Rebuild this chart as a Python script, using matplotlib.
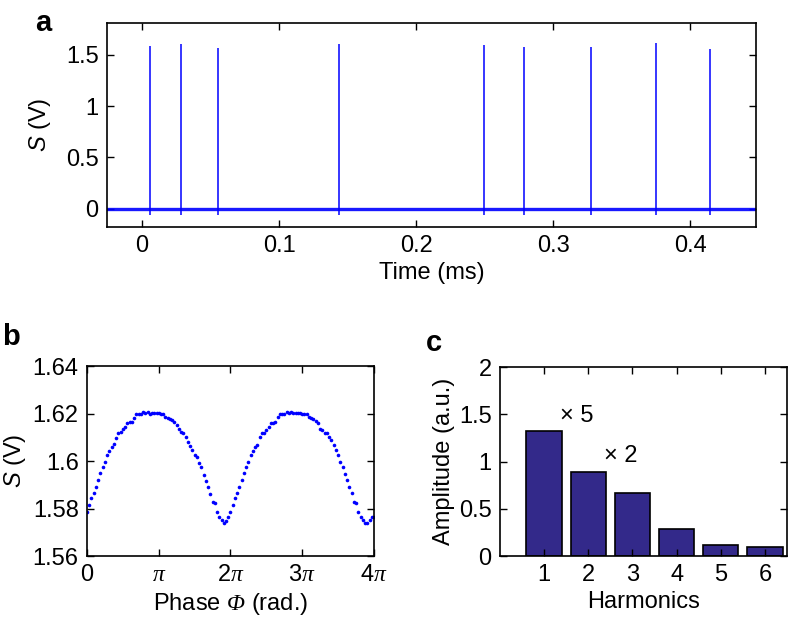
import numpy as np
import matplotlib
matplotlib.use('Agg')
import matplotlib.pyplot as plt

plt.rcParams['font.family'] = ['Liberation Sans', 'DejaVu Sans']
plt.rcParams['mathtext.fontset'] = 'custom'
plt.rcParams['mathtext.rm'] = 'Liberation Sans'
plt.rcParams['mathtext.it'] = 'Liberation Serif:italic'
plt.rcParams['mathtext.cal'] = 'Liberation Serif:italic'
plt.rcParams['mathtext.sf'] = 'Liberation Sans:italic'

# panel a: spike train
spike_times = [0.0058, 0.0285, 0.0555, 0.1438, 0.2496, 0.2788, 0.3277, 0.3752, 0.4146]
spike_peaks = [1.587, 1.607, 1.571, 1.607, 1.597, 1.575, 1.575, 1.613, 1.555]

# panel b: signal vs phase (in units of pi / 32)
phase_steps = 32
signal = [1.5787, 1.5815, 1.5844, 1.5865, 1.5890, 1.5920, 1.5950, 1.5975, 1.5997, 1.6025,
          1.6043, 1.6060, 1.6070, 1.6098, 1.6117, 1.6123, 1.6133, 1.6144, 1.6161, 1.6163,
          1.6166, 1.6180, 1.6197, 1.6198, 1.6200, 1.6206, 1.6204, 1.6207, 1.6200, 1.6203,
          1.6204, 1.6204, 1.6203, 1.6200, 1.6197, 1.6186, 1.6182, 1.6176, 1.6174, 1.6164,
          1.6150, 1.6136, 1.6122, 1.6118, 1.6102, 1.6081, 1.6063, 1.6046, 1.6025, 1.6018,
          1.5990, 1.5973, 1.5941, 1.5917, 1.5892, 1.5861, 1.5829, 1.5822, 1.5787, 1.5765,
          1.5752, 1.5738, 1.5749, 1.5763, 1.5787, 1.5815, 1.5843, 1.5864, 1.5889, 1.5920,
          1.5948, 1.5973, 1.5997, 1.6025, 1.6043, 1.6060, 1.6067, 1.6100, 1.6117, 1.6119,
          1.6131, 1.6144, 1.6159, 1.6161, 1.6166, 1.6184, 1.6198, 1.6198, 1.6200, 1.6206,
          1.6204, 1.6207, 1.6203, 1.6204, 1.6204, 1.6204, 1.6200, 1.6197, 1.6197, 1.6186,
          1.6182, 1.6176, 1.6170, 1.6159, 1.6136, 1.6130, 1.6120, 1.6117, 1.6100, 1.6088,
          1.6067, 1.6046, 1.6025, 1.5997, 1.5976, 1.5945, 1.5920, 1.5892, 1.5864, 1.5829,
          1.5825, 1.5787, 1.5765, 1.5752, 1.5740, 1.5738, 1.5752, 1.5763, 1.5765]
phase_ticklabels = ['0', r'$\mathit{\pi}$', r'$2\mathit{\pi}$', r'$3\mathit{\pi}$', r'$4\mathit{\pi}$']

# panel c: harmonics
harmonics = [1, 2, 3, 4, 5, 6]
amplitude = [1.32, 0.89, 0.67, 0.29, 0.115, 0.10]
scale_notes = {1: '× 5', 2: '× 2'}

FS = 17
blue = '#0000ff'
bar_color = '#33298a'


def matlab_box(ax):
    ax.tick_params(direction='in', top=True, right=True, length=5, width=1,
                   labelsize=FS, pad=6)
    for s in ax.spines.values():
        s.set_linewidth(1.2)


fig = plt.figure(figsize=(7.88, 6.23), dpi=100)

# ---- a ----
axa = fig.add_axes([0.1358, 0.6356, 0.8236, 0.3274])
axa.axhline(0, color=blue, lw=2.4, alpha=0.9, zorder=2)
axa.vlines(spike_times, -0.065, spike_peaks, color=blue, lw=1.1, zorder=3)
axa.set_xlim(-0.0255, 0.448)
axa.set_ylim(-0.18, 1.81)
axa.set_xticks([0, 0.1, 0.2, 0.3, 0.4])
axa.set_xticklabels(['0', '0.1', '0.2', '0.3', '0.4'])
axa.set_yticks([0, 0.5, 1, 1.5])
axa.set_yticklabels(['0', '0.5', '1', '1.5'])
matlab_box(axa)
axa.set_xlabel('Time (ms)', fontsize=FS, labelpad=3)
axa.set_ylabel(r'$\mathsf{S}$ (V)', fontsize=FS, labelpad=9)

# ---- b ----
axb = fig.add_axes([0.1104, 0.1075, 0.3642, 0.305])
phase = np.arange(len(signal)) / phase_steps
axb.plot(phase, signal, linestyle='none', marker='o', ms=2.6, mew=0, color=blue)
axb.set_xlim(0, 4)
axb.set_ylim(1.56, 1.64)
axb.set_xticks([0, 1, 2, 3, 4])
axb.set_xticklabels(phase_ticklabels)
axb.set_yticks([1.56, 1.58, 1.6, 1.62, 1.64])
axb.set_yticklabels(['1.56', '1.58', '1.6', '1.62', '1.64'])
matlab_box(axb)
axb.set_xlabel(r'Phase $\mathcal{\Phi}$ (rad.)', fontsize=FS, labelpad=3)
axb.set_ylabel(r'$\mathsf{S}$ (V)', fontsize=FS, labelpad=3)

# ---- c ----
axc = fig.add_axes([0.6345, 0.1075, 0.3642, 0.3034])
axc.bar(harmonics, amplitude, width=0.8, color=bar_color, edgecolor='black', lw=1.2)
for h, note in scale_notes.items():
    axc.text(h + 0.35, amplitude[h - 1] + 0.05, note, fontsize=FS,
             ha='left', va='bottom')
axc.set_xlim(0, 6.5)
axc.set_ylim(0, 2)
axc.set_xticks(harmonics)
axc.set_yticks([0, 0.5, 1, 1.5, 2])
axc.set_yticklabels(['0', '0.5', '1', '1.5', '2'])
matlab_box(axc)
axc.set_xlabel('Harmonics', fontsize=FS, labelpad=3)
axc.set_ylabel('Amplitude (a.u.)', fontsize=FS, labelpad=3)

fig.text(0.044, 0.985, 'a', fontsize=21, fontweight='bold', ha='left', va='top')
fig.text(0.003, 0.482, 'b', fontsize=21, fontweight='bold', ha='left', va='top')
fig.text(0.541, 0.472, 'c', fontsize=21, fontweight='bold', ha='left', va='top')

fig.savefig('out.png', dpi=100)
